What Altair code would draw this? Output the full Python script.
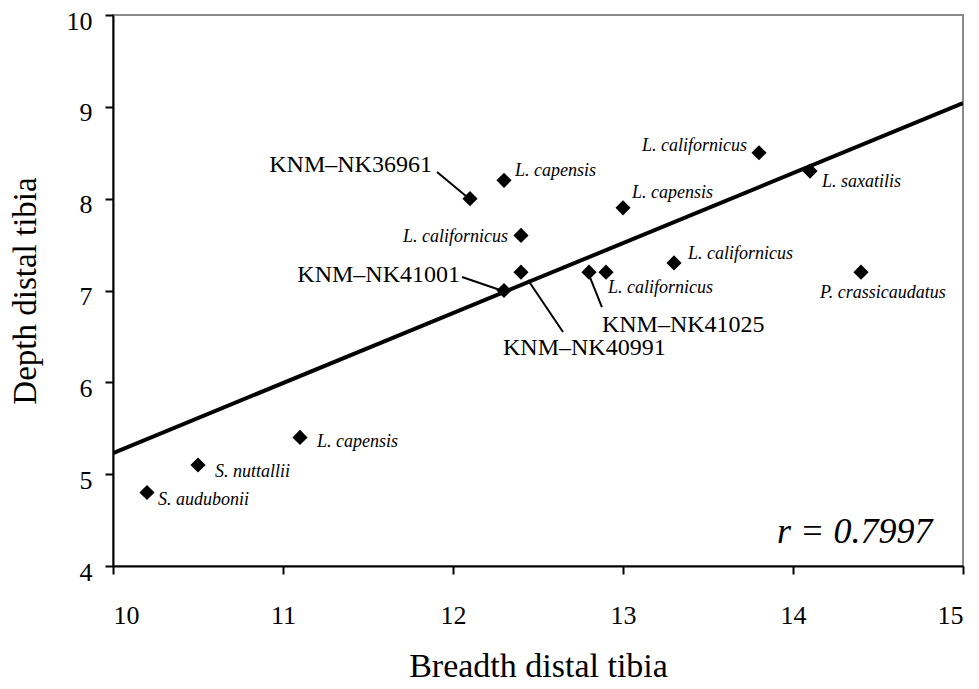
import altair as alt
import pandas as pd

# ---- data ----
breadth = [12.1, 12.3, 12.4, 12.4, 12.3, 12.8, 12.9, 13.0, 13.8, 14.1, 13.3, 14.4, 11.1, 10.5, 10.2]
depth = [8.0, 8.2, 7.6, 7.2, 7.0, 7.2, 7.2, 7.9, 8.5, 8.3, 7.3, 7.2, 5.4, 5.1, 4.8]

# regression line endpoints
fit_x = [10.0, 15.0]
fit_y = [5.23, 9.04]

# species labels (data-space anchors) and alignment
sp_text = ["L. capensis", "L. californicus", "L. capensis", "L. californicus", "L. saxatilis",
           "L. californicus", "L. californicus", "P. crassicaudatus", "L. capensis",
           "S. nuttallii", "S. audubonii"]
sp_x = [12.365, 12.324, 13.053, 13.729, 14.171, 13.382, 12.912, 14.529, 11.20, 10.60, 10.265]
sp_y = [8.301, 7.583, 8.062, 8.573, 8.181, 7.397, 7.027, 6.973, 5.350, 5.023, 4.718]
sp_align = ["left", "right", "left", "right", "left", "left", "left", "center", "left", "left", "left"]

# specimen labels
knm_text = ["KNM\u2013NK36961", "KNM\u2013NK41001", "KNM\u2013NK40991", "KNM\u2013NK41025"]
knm_x = [11.876, 12.041, 12.294, 12.876]
knm_y = [8.367, 7.169, 6.374, 6.624]
knm_align = ["right", "right", "left", "left"]

# leader lines
lead_x1 = [11.906, 12.053, 12.441, 12.800]
lead_y1 = [8.290, 7.147, 7.114, 7.169]
lead_x2 = [12.076, 12.294, 12.647, 12.876]
lead_y2 = [8.029, 6.994, 6.548, 6.820]

r_text = ["r = 0.7997"]
r_x = [14.82]
r_y = [4.37]

x_ticks = [10, 11, 12, 13, 14, 15]
y_ticks = [4, 5, 6, 7, 8, 9, 10]

SERIF = "Liberation Serif, Times New Roman, serif"

pts = pd.DataFrame({"x": breadth, "y": depth})
fit = pd.DataFrame({"x": fit_x, "y": fit_y})
sp = pd.DataFrame({"x": sp_x, "y": sp_y, "t": sp_text, "a": sp_align})
knm = pd.DataFrame({"x": knm_x, "y": knm_y, "t": knm_text, "a": knm_align})
lead = pd.DataFrame({"x": lead_x1, "y": lead_y1, "x2": lead_x2, "y2": lead_y2})
rdf = pd.DataFrame({"x": r_x, "y": r_y, "t": r_text})

xs = alt.Scale(domain=[10, 15], nice=False, zero=False)
ys = alt.Scale(domain=[4, 10], nice=False, zero=False)

X = alt.X("x:Q", scale=xs, axis=alt.Axis(values=x_ticks, format="d", title="Breadth distal tibia"))
Y = alt.Y("y:Q", scale=ys, axis=alt.Axis(values=y_ticks, format="d", title="Depth distal tibia"))

line = alt.Chart(fit).mark_line(color="black", strokeWidth=4, clip=True).encode(x=X, y=Y)

points = alt.Chart(pts).mark_point(shape="diamond", filled=True, color="black", size=230, opacity=1).encode(
    x=alt.X("x:Q", scale=xs), y=alt.Y("y:Q", scale=ys))

leaders = alt.Chart(lead).mark_rule(color="black", strokeWidth=2).encode(
    x=alt.X("x:Q", scale=xs), y=alt.Y("y:Q", scale=ys), x2="x2:Q", y2="y2:Q")

sp_layers = []
for a in ["left", "right", "center"]:
    sp_layers.append(
        alt.Chart(sp).transform_filter(alt.datum.a == a).mark_text(
            align=a, baseline="middle", font=SERIF, fontStyle="italic", fontSize=18, color="black"
        ).encode(x=alt.X("x:Q", scale=xs), y=alt.Y("y:Q", scale=ys), text="t:N"))

knm_layers = []
for a in ["left", "right"]:
    knm_layers.append(
        alt.Chart(knm).transform_filter(alt.datum.a == a).mark_text(
            align=a, baseline="middle", font=SERIF, fontSize=24, color="black"
        ).encode(x=alt.X("x:Q", scale=xs), y=alt.Y("y:Q", scale=ys), text="t:N"))

rlabel = alt.Chart(rdf).mark_text(align="right", baseline="middle", font=SERIF, fontStyle="italic",
                                  fontSize=36, color="black").encode(
    x=alt.X("x:Q", scale=xs), y=alt.Y("y:Q", scale=ys), text="t:N")

chart = alt.layer(line, leaders, points, *sp_layers, *knm_layers, rlabel).properties(
    width=850, height=551,
    autosize=alt.AutoSizeParams(type="none"),
    padding={"left": 105, "top": 7, "right": 8, "bottom": 122},
    background="white",
).configure_view(
    stroke="#8a8a8a", strokeWidth=2
).configure_axis(
    grid=False,
    domainColor="black", domainWidth=2,
    tickColor="black", tickWidth=2, tickSize=8,
    labelFont=SERIF, labelFontSize=26, labelColor="black",
    titleFont=SERIF, titleFontSize=34, titleFontWeight="normal", titleColor="black",
).configure_axisX(
    labelPadding=28, titlePadding=21, titleFontSize=34
).configure_axisY(
    labelPadding=13, titlePadding=24, titleFontSize=33, labelOffset=6
)

chart.save("out.html", embed_options={"renderer": "svg", "actions": False})
